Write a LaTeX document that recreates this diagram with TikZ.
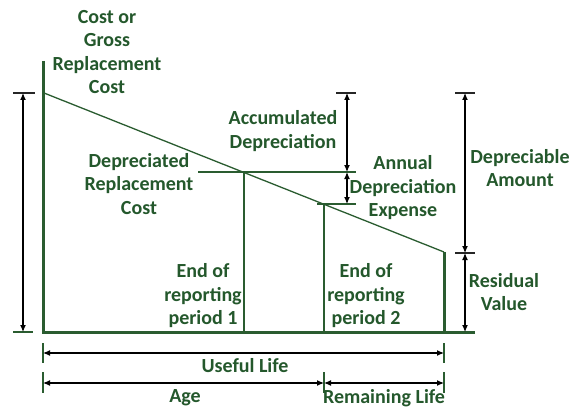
\documentclass[tikz,border=0pt]{standalone}
\usepackage{fontspec}
\setmainfont{Carlito}
\usetikzlibrary{arrows.meta}
\definecolor{dg}{RGB}{36,88,44}
\definecolor{ln}{RGB}{42,92,48}
\tikzset{
  lbl/.style={text=dg, font=\fontsize{20}{23.5}\selectfont\bfseries, align=center, inner sep=0pt},
  axis/.style={draw=ln, line width=3pt},
  thin/.style={draw=ln, line width=1.3pt},
  tick/.style={draw=black!85, line width=1.1pt},
  gtick/.style={draw=ln, line width=1.3pt},
  dim/.style={draw=black, line width=1.1pt, {Latex[length=7pt,width=6pt]}-{Latex[length=7pt,width=6pt]}},
}
\begin{document}
\begin{tikzpicture}[x=1pt,y=-1pt]
\useasboundingbox[fill=white] (0,0) rectangle (586,409);
% key coordinates
\coordinate (O) at (43,332);
\coordinate (Ytop) at (43,61);
\coordinate (Xend) at (475,332);
\coordinate (S) at (44,93);
\coordinate (E) at (444,252);
\coordinate (Ebot) at (444,332);
\coordinate (P1) at (244,172);
\coordinate (P1b) at (244,332);
\coordinate (P2) at (324,204);
\coordinate (P2b) at (324,332);
% axes
\draw[axis] (Ytop) -- (O) -- (Xend);
\draw[axis] (E) -- (Ebot);
% depreciation line
\draw[thin] (S) -- (E);
\draw[thin] (P1) -- (P1b);
\draw[thin] (P2) -- (P2b);
\coordinate (h1a) at (198,172); \coordinate (h1b) at (356,172);
\coordinate (h2a) at (317,204); \coordinate (h2b) at (356,204);
\draw[thin] (h1a) -- (h1b);
\draw[thin] (h2a) -- (h2b);
% ticks
\coordinate (tl1) at (13,93); \coordinate (tl2) at (35,93);
\coordinate (tl3) at (13,332); \coordinate (tl4) at (33,332);
\draw[tick] (tl1) -- (tl2);
\draw[gtick] (tl3) -- (tl4);
\coordinate (ta1) at (336,93); \coordinate (ta2) at (356,93);
\draw[tick] (ta1) -- (ta2);
\coordinate (td1) at (455,93); \coordinate (td2) at (475,93);
\coordinate (tr1) at (455,253); \coordinate (tr2) at (475,253);
\draw[tick] (td1) -- (td2);
\draw[tick] (tr1) -- (tr2);
% vertical dimension arrows
\coordinate (L1) at (23,93); \coordinate (L2) at (23,332);
\draw[dim] (L1) -- (L2);
\coordinate (A1) at (347,93); \coordinate (A2) at (347,172); \coordinate (A3) at (347,204);
\draw[dim] (A1) -- (A2);
\draw[dim] (A2) -- (A3);
\coordinate (D1) at (465,93); \coordinate (D2) at (465,253); \coordinate (D3) at (465,332);
\draw[dim] (D1) -- (D2);
\draw[dim] (D2) -- (D3);
% bottom dimension ticks
\coordinate (u1a) at (43,343); \coordinate (u1b) at (43,363);
\coordinate (u2a) at (444,343); \coordinate (u2b) at (444,363);
\draw[gtick] (u1a) -- (u1b);
\draw[gtick] (u2a) -- (u2b);
\coordinate (g1a) at (43,372); \coordinate (g1b) at (43,393);
\coordinate (g2a) at (324,372); \coordinate (g2b) at (324,393);
\coordinate (g3a) at (444,372); \coordinate (g3b) at (444,393);
\draw[gtick] (g1a) -- (g1b);
\draw[gtick] (g2a) -- (g2b);
\draw[gtick] (g3a) -- (g3b);
% bottom dimension arrows
\coordinate (U1) at (43,353); \coordinate (U2) at (444,353);
\draw[dim] (U1) -- (U2);
\coordinate (G1) at (43,383); \coordinate (G2) at (324,383); \coordinate (G3) at (444,383);
\draw[dim] (G1) -- (G2);
\draw[dim] (G2) -- (G3);
% labels
\node[lbl] (cost) at (107,52) {Cost or\\Gross\\Replacement\\Cost};
\node[lbl] (accum) at (283,131) {Accumulated\\Depreciation};
\node[lbl] (drc) at (139,184) {Depreciated\\Replacement\\Cost};
\node[lbl] (annual) at (403,188) {Annual\\Depreciation\\Expense};
\node[lbl] (dep) at (520,168) {Depreciable\\Amount};
\node[lbl] (res) at (504,292) {Residual\\Value};
\node[lbl] (end1) at (203,296) {End of\\reporting\\period 1};
\node[lbl] (end2) at (366,296) {End of\\reporting\\period 2};
\node[lbl] (useful) at (245,366) {Useful Life};
\node[lbl] (age) at (185,398) {Age};
\node[lbl] (rem) at (384,398) {Remaining Life};
\end{tikzpicture}
\end{document}
